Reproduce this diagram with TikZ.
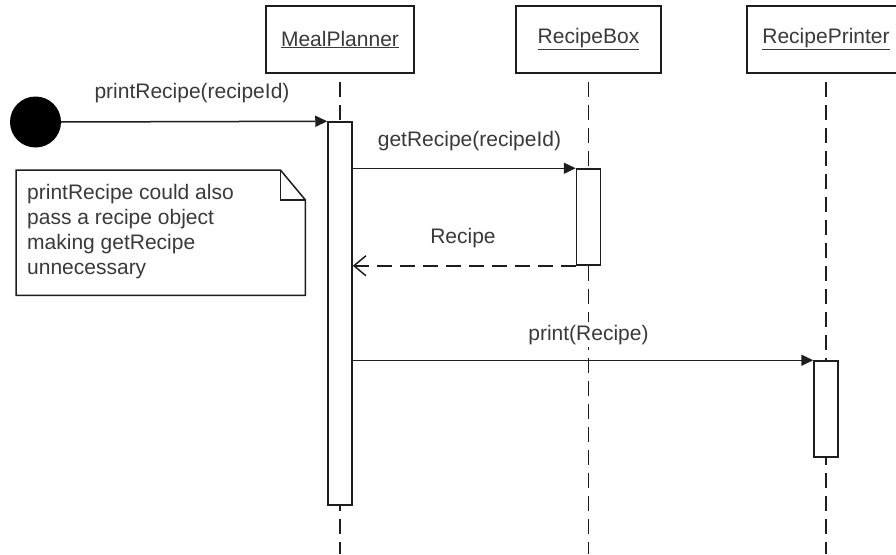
\documentclass[tikz,border=0pt]{standalone}
\usepackage{fontspec}
\setmainfont{Liberation Sans}
\usetikzlibrary{arrows.meta}
\definecolor{ink}{HTML}{1E1E1E}
\definecolor{txt}{HTML}{3A3A3A}
\begin{document}
\begin{tikzpicture}[x=1pt,y=-1pt,
  every node/.style={inner sep=0pt, font=\fontsize{21}{25}\selectfont, text=txt},
  obj/.style={draw=ink, line width=1.5pt, minimum width=#1, minimum height=67pt},
  actbar/.style={draw=ink, fill=white, line width=1.5pt, minimum width=24pt, minimum height=#1},
  lifeline/.style={draw=ink, line width=1.5pt, dash pattern=on 15pt off 8pt, dash phase=15pt},
  call/.style={draw=ink, line width=1.5pt, -{Triangle[length=12pt,width=11pt]}},
  reply/.style={draw=ink, line width=1.5pt, dash pattern=on 15pt off 8pt,
    -{Straight Barb[length=12pt,width=20pt,line width=1.5pt]}},
  lbl/.style={anchor=base, fill=white, inner xsep=2pt, inner ysep=3pt}]
\useasboundingbox (0,0) rectangle (896,554);
\clip (0,0) rectangle (896,554);
\fill[white] (0,0) rectangle (896,554);
\coordinate (bottom) at (0,554);

% objects
\node[obj=148pt] (mp) at (340,39.5) {\underline{MealPlanner}};
\node[obj=145pt] (rb) at (588.5,39.5) {\underline{RecipeBox}};
\node[obj=158pt] (rp) at (826,39.5) {\underline{RecipePrinter}};

% lifelines
\draw[lifeline] (mp.south) -- (mp.south |- bottom);
\draw[lifeline] (rb.south) -- (rb.south |- bottom);
\draw[lifeline] (rp.south) -- (rp.south |- bottom);

% activation bars
\node[actbar=383pt] (mpbar) at (340,313.5) {};
\node[actbar=96pt] (rbbar) at (588.5,217) {};
\node[actbar=96pt] (rpbar) at (826,409) {};

% initial call
\node[circle, fill=black, minimum size=51pt] (start) at (35.5,122) {};
\draw[call] (start.east) -- (mpbar.north west);
\node[lbl] (l1) at (192,98) {printRecipe(recipeId)};

% getRecipe
\draw[call] (mpbar.east |- rbbar.north west) -- (rbbar.north west);
\node[lbl] (l2) at (469.5,146) {getRecipe(recipeId)};

% return value
\draw[reply] (rbbar.south west) -- (mpbar.east |- rbbar.south west);
\node[lbl] (l3) at (463,243) {Recipe};

% print
\draw[call] (mpbar.east |- rpbar.north west) -- (rpbar.north west);
\node[lbl] (l4) at (588.5,340) {print(Recipe)};

% note
\node[anchor=north west, minimum width=289pt, minimum height=125pt] (note) at (16,170) {};
\draw[ink, line width=1.5pt]
  (note.north west) -- ([xshift=-25pt]note.north east) -- ([yshift=-30pt]note.north east)
  -- (note.south east) -- (note.south west) -- cycle;
\draw[ink, line width=1.5pt]
  ([xshift=-25pt]note.north east) -- ([xshift=-25pt,yshift=-30pt]note.north east)
  -- ([yshift=-30pt]note.north east);
\node[anchor=north west, align=left] (notetext) at (27,184)
  {printRecipe could also\\pass a recipe object\\making getRecipe\\unnecessary};
\end{tikzpicture}
\end{document}
